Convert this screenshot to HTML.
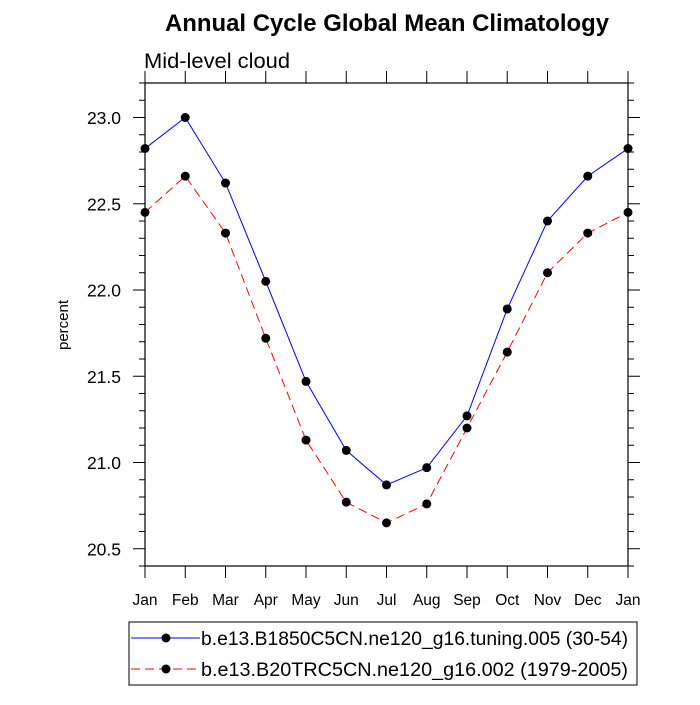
<!DOCTYPE html>
<html><head><meta charset="utf-8"><style>body{margin:0;background:#fff}svg{font-family:"Liberation Sans",sans-serif}</style></head>
<body>
<svg id="c" width="700" height="700">
<text x="387" y="31" text-anchor="middle" font-size="24" font-weight="bold" textLength="444" lengthAdjust="spacingAndGlyphs">Annual Cycle Global Mean Climatology</text>
<text x="144" y="68" font-size="21" textLength="146" lengthAdjust="spacingAndGlyphs">Mid-level cloud</text>
<text transform="translate(68,325) rotate(-90)" text-anchor="middle" font-size="15">percent</text>
<g id="ax"></g><g id="marks"></g>
<g>
<rect x="129" y="622" width="508" height="63" fill="#fff" stroke="#000" stroke-width="1"/>
<g>
<line x1="131" y1="638" x2="200" y2="638" stroke="#00f" stroke-width="1"/><circle cx="166" cy="638" r="4.5"/>
<text x="201" y="645" font-size="19.5" textLength="427" lengthAdjust="spacingAndGlyphs">b.e13.B1850C5CN.ne120_g16.tuning.005 (30-54)</text></g>
<g>
<line x1="131" y1="669" x2="200" y2="669" stroke="#f00" stroke-width="1" stroke-dasharray="9,5"/><circle cx="166" cy="669" r="4.5"/>
<text x="201" y="676" font-size="19.5" textLength="427" lengthAdjust="spacingAndGlyphs">b.e13.B20TRC5CN.ne120_g16.002 (1979-2005)</text></g>
</g>
</svg>
<script>
const months=["Jan","Feb","Mar","Apr","May","Jun","Jul","Aug","Sep","Oct","Nov","Dec","Jan"];
const tuning=[22.82,23.0,22.62,22.05,21.47,21.07,20.87,20.97,21.27,21.89,22.40,22.66,22.82];
const trc=[22.45,22.66,22.33,21.72,21.13,20.77,20.65,20.76,21.20,21.64,22.10,22.33,22.45];
const yTicks=[20.5,21.0,21.5,22.0,22.5,23.0];
const L=145,R=628,T=83,B=566,ymin=20.4,ymax=23.2;
const X=i=>L+(R-L)*i/12, Y=v=>B-(v-ymin)/(ymax-ymin)*(B-T);
const ns="http://www.w3.org/2000/svg";
function mk(p,t,a){const e=document.createElementNS(ns,t);for(const k in a)e.setAttribute(k,a[k]);p.appendChild(e);return e;}
const ax=document.getElementById('ax'),mg=document.getElementById('marks');
const fr=mk(ax,'rect',{x:L,y:T,width:R-L,height:B-T,fill:'none',stroke:'#000','stroke-width':1.2});


for(let i=0;i<=12;i++){const x=X(i);
mk(ax,'line',{x1:x,y1:B,x2:x,y2:B+12,stroke:'#000'});mk(ax,'line',{x1:x,y1:T,x2:x,y2:T-12,stroke:'#000'});
const t=mk(ax,'text',{x:x,y:B+39,'text-anchor':'middle','font-size':15.5});t.textContent=months[i];

}
for(let k=0;k<=28;k++){const v=ymin+k*0.1,y=Y(v),maj=yTicks.some(t=>Math.abs(t-v)<1e-6),len=maj?12:6;
mk(ax,'line',{x1:L,y1:y,x2:L-len,y2:y,stroke:'#000'});mk(ax,'line',{x1:R,y1:y,x2:R+len,y2:y,stroke:'#000'});}
yTicks.forEach(v=>{const t=mk(ax,'text',{x:L-24,y:Y(v)+6.5,'text-anchor':'end','font-size':17.5});t.textContent=v.toFixed(1);

});
function series(d,c,dash,name){const g=mk(mg,'g',{});


mk(g,'polyline',{points:d.map((v,i)=>X(i)+','+Y(v)).join(' '),fill:'none',stroke:c,'stroke-width':1,'stroke-dasharray':dash});
d.forEach((v,i)=>{const p=mk(g,'circle',{cx:X(i),cy:Y(v),r:4.5});

});}
series(tuning,'#00f','none','series-tuning');
series(trc,'#f00','9,5','series-trc');
</script>
</body></html>
